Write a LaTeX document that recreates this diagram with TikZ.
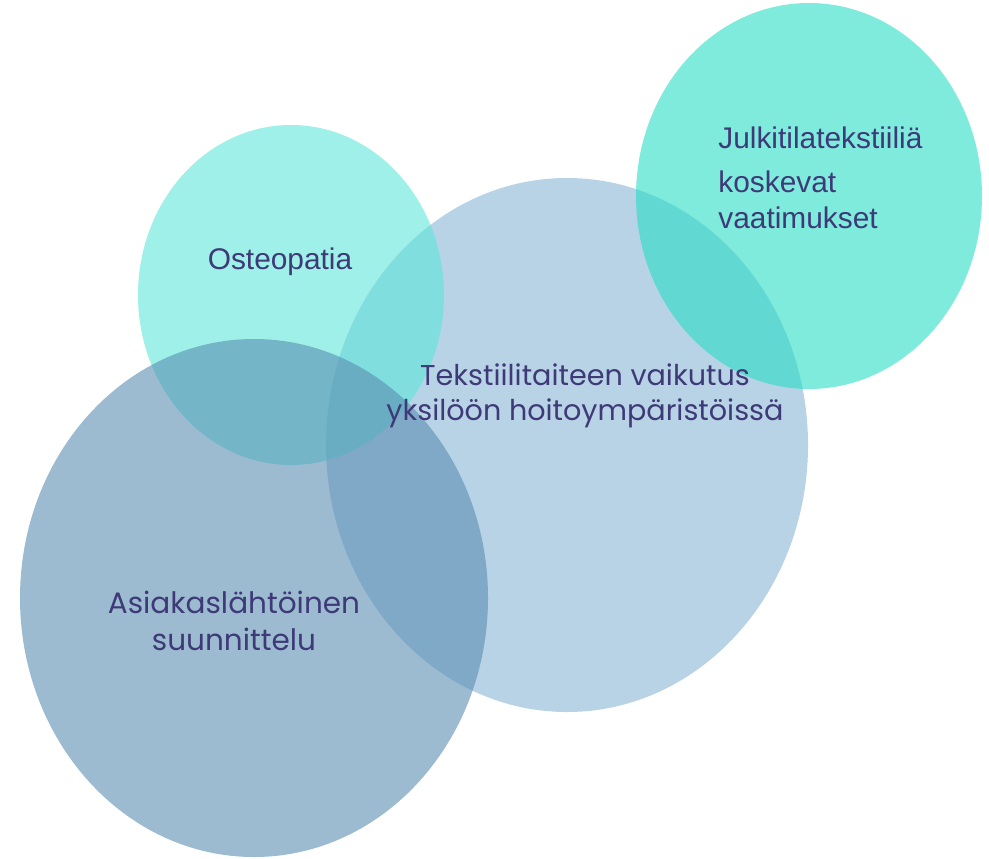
\documentclass[tikz,border=0pt]{standalone}
\usepackage{fontspec}
\setmainfont{Poppins}
\newfontfamily\robo{Liberation Sans}
\usepackage{tikz}

\definecolor{bigblue}{RGB}{137,182,213}
\definecolor{osteo}{RGB}{93,230,218}
\definecolor{steel}{RGB}{90,142,178}
\definecolor{turq}{RGB}{40,222,197}
\definecolor{ink}{RGB}{62,58,120}

\begin{document}
\begin{tikzpicture}[x=0.02cm,y=-0.02cm,
    lbl/.style={text=ink,inner sep=0pt,font=\fontsize{16.3}{20}\selectfont},
    rlbl/.style={text=ink,inner sep=0pt,font=\robo\fontsize{17}{20}\selectfont}]
        \useasboundingbox (0,0) rectangle (989,858);
        %
        \fill [bigblue, opacity=0.6] (567,445) ellipse (241 and 267);
        %
        \fill [osteo, opacity=0.6] (291,295) ellipse (153 and 170);
        %
        \fill [steel, opacity=0.6] (254,598) ellipse (234 and 259);
        %
        \fill [turq, opacity=0.6] (809,196) ellipse (173 and 193);
        %
        \node [rlbl] (osteopatia) at (280,262) {Osteopatia};
        \node [rlbl, align=left, anchor=north west] (julkitila) at (718,127)
            {Julkitilatekstiiliä\\[5pt] koskevat\\ vaatimukset};
        \node [lbl, align=center] (tekstiili) at (585,396)
            {Tekstiilitaiteen vaikutus\\ yksilöön hoitoympäristöissä};
        \node [lbl, align=center, font=\fontsize{16.8}{21}\selectfont] (asiakas) at (234,621)
            {Asiakaslähtöinen\\ suunnittelu};
      \end{tikzpicture}
\end{document}
